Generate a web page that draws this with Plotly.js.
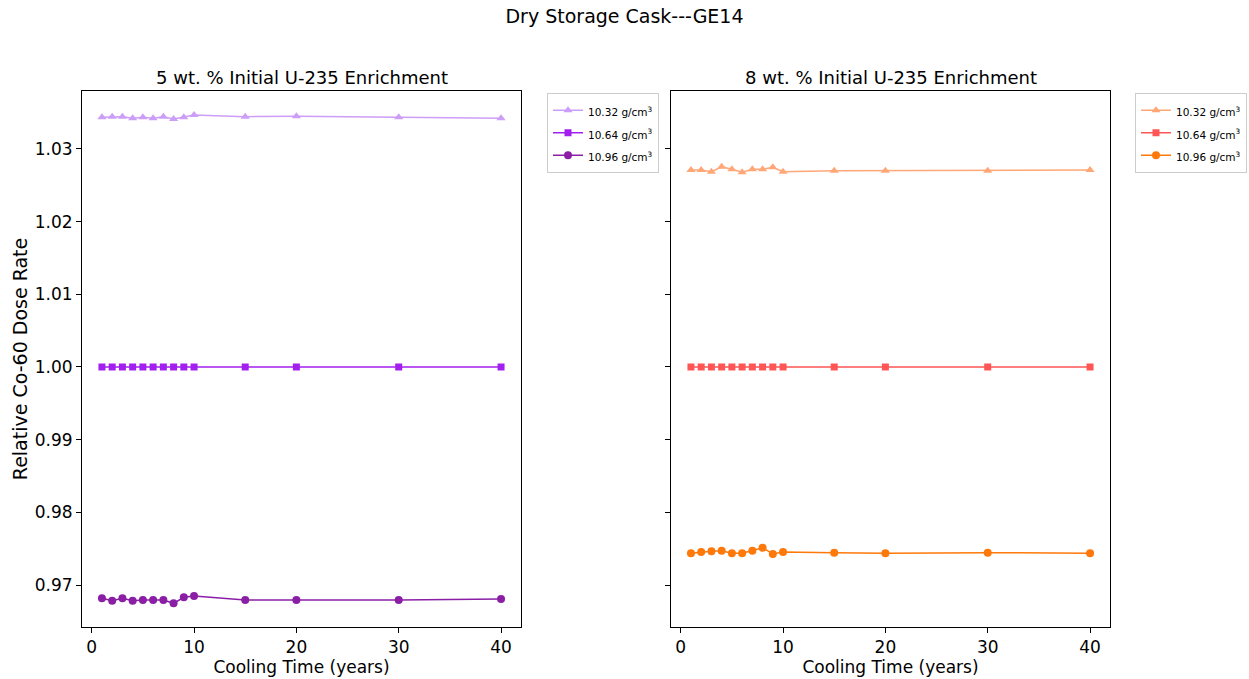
<!DOCTYPE html>
<html>
<head>
<meta charset="utf-8">
<script src="https://cdn.plot.ly/plotly-3.0.1.min.js"></script>
<style>html,body{margin:0;padding:0;background:#fff;}#chart{width:1249px;height:679px;}</style>
</head>
<body>
<div id="chart"></div>
<script>
const coolingTime = [1, 2, 3, 4, 5, 6, 7, 8, 9, 10, 15, 20, 30, 40];
const densityLabels = ['10.32 g/cm<sup>3</sup>', '10.64 g/cm<sup>3</sup>', '10.96 g/cm<sup>3</sup>'];

// 5 wt.% enrichment
const e5_1032 = [1.03436, 1.03445, 1.03445, 1.03422, 1.03436, 1.03422, 1.03445, 1.03413, 1.03436, 1.03468, 1.03445, 1.03450, 1.03436, 1.03422];
const e5_1064 = [1, 1, 1, 1, 1, 1, 1, 1, 1, 1, 1, 1, 1, 1];
const e5_1096 = [0.96817, 0.96784, 0.96817, 0.96784, 0.96794, 0.96794, 0.96794, 0.96748, 0.96831, 0.96849, 0.96794, 0.96794, 0.96794, 0.96807];

// 8 wt.% enrichment
const e8_1032 = [1.02711, 1.02711, 1.02688, 1.02756, 1.02721, 1.02679, 1.02721, 1.02721, 1.02748, 1.02688, 1.02701, 1.02701, 1.02701, 1.02711];
const e8_1064 = [1, 1, 1, 1, 1, 1, 1, 1, 1, 1, 1, 1, 1, 1];
const e8_1096 = [0.97436, 0.97454, 0.97464, 0.97472, 0.97436, 0.97436, 0.97472, 0.97513, 0.97427, 0.97454, 0.97445, 0.97436, 0.97445, 0.97436];

const colors5 = ['#cc9ef7', '#a31ff0', '#8a1fa6'];
const colors8 = ['#ffa777', '#ff5555', '#ff780a'];
const symbols = ['triangle-up', 'square', 'circle'];
const sizes = [8, 7, 8];

const series5 = [e5_1032, e5_1064, e5_1096];
const series8 = [e8_1032, e8_1064, e8_1096];

const legendText = s => '<span style="font-size:10.5px">' + s + '</span>';

const traces = [];
series5.forEach((ys, i) => {
  traces.push({x: coolingTime, y: ys, name: legendText(densityLabels[i]), type: 'scatter', mode: 'lines+markers',
    xaxis: 'x', yaxis: 'y', legend: 'legend',
    line: {color: colors5[i], width: 1.5}, marker: {symbol: symbols[i], size: sizes[i], color: colors5[i]}});
});
series8.forEach((ys, i) => {
  traces.push({x: coolingTime, y: ys, name: legendText(densityLabels[i]), type: 'scatter', mode: 'lines+markers',
    xaxis: 'x2', yaxis: 'y2', legend: 'legend2',
    line: {color: colors8[i], width: 1.5}, marker: {symbol: symbols[i], size: sizes[i], color: colors8[i]}});
});

const W = 1249, H = 679;
const axL = [82, 521], axR = [671, 1110], axY = [91, 627];
const fx = p => p / W;
const fy = p => 1 - p / H;

const common = {showline: true, mirror: true, linecolor: '#000', linewidth: 1, ticks: 'outside', ticklen: 5,
  tickcolor: '#000', showgrid: false, zeroline: false, automargin: false,
  tickfont: {family: 'DejaVu Sans', size: 17, color: '#000'}};

const xcommon = Object.assign({}, common, {range: [-0.95, 41.95], tickvals: [0, 10, 20, 30, 40],
  title: {text: 'Cooling Time (years)', font: {family: 'DejaVu Sans', size: 17, color: '#000'}, standoff: 3}});

const layout = {
  width: W, height: H, paper_bgcolor: '#fff', plot_bgcolor: '#fff',
  margin: {l: 0, r: 0, t: 0, b: 0, autoexpand: false},
  showlegend: true,
  font: {family: 'DejaVu Sans', color: '#000'},
  title: {text: 'Dry Storage Cask---GE14', font: {family: 'DejaVu Sans', size: 19, color: '#000'},
    x: 0.5, xanchor: 'center', y: fy(16), yanchor: 'middle'},
  xaxis: Object.assign({}, xcommon, {domain: [fx(axL[0]), fx(axL[1])], anchor: 'y'}),
  xaxis2: Object.assign({}, xcommon, {domain: [fx(axR[0]), fx(axR[1])], anchor: 'y2'}),
  yaxis: Object.assign({}, common, {domain: [fy(axY[1]), fy(axY[0])], anchor: 'x', range: [0.96422, 1.03798],
    tickvals: [0.97, 0.98, 0.99, 1.00, 1.01, 1.02, 1.03], tickformat: '.2f',
    title: {text: 'Relative Co-60 Dose Rate', font: {family: 'DejaVu Sans', size: 19, color: '#000'}, standoff: 2}}),
  yaxis2: Object.assign({}, common, {domain: [fy(axY[1]), fy(axY[0])], anchor: 'x2', matches: 'y',
    tickvals: [0.97, 0.98, 0.99, 1.00, 1.01, 1.02, 1.03], showticklabels: false}),
  legend: {x: fx(547), y: fy(93), xanchor: 'left', yanchor: 'top', bgcolor: '#fff', bordercolor: '#ccc', borderwidth: 1,
    font: {family: 'DejaVu Sans', size: 15, color: '#000'}, itemwidth: 30, tracegroupgap: 0},
  legend2: {x: fx(1135), y: fy(93), xanchor: 'left', yanchor: 'top', bgcolor: '#fff', bordercolor: '#ccc', borderwidth: 1,
    font: {family: 'DejaVu Sans', size: 15, color: '#000'}, itemwidth: 30, tracegroupgap: 0},
  annotations: [
    {text: '5 wt. % Initial U-235 Enrichment', xref: 'paper', yref: 'paper', x: fx((axL[0] + axL[1]) / 2), y: fy(77),
      xanchor: 'center', yanchor: 'middle', showarrow: false, font: {family: 'DejaVu Sans', size: 18, color: '#000'}},
    {text: '8 wt. % Initial U-235 Enrichment', xref: 'paper', yref: 'paper', x: fx((axR[0] + axR[1]) / 2), y: fy(77),
      xanchor: 'center', yanchor: 'middle', showarrow: false, font: {family: 'DejaVu Sans', size: 18, color: '#000'}}
  ]
};

Plotly.newPlot('chart', traces, layout, {displayModeBar: false, staticPlot: true});
</script>
</body>
</html>
